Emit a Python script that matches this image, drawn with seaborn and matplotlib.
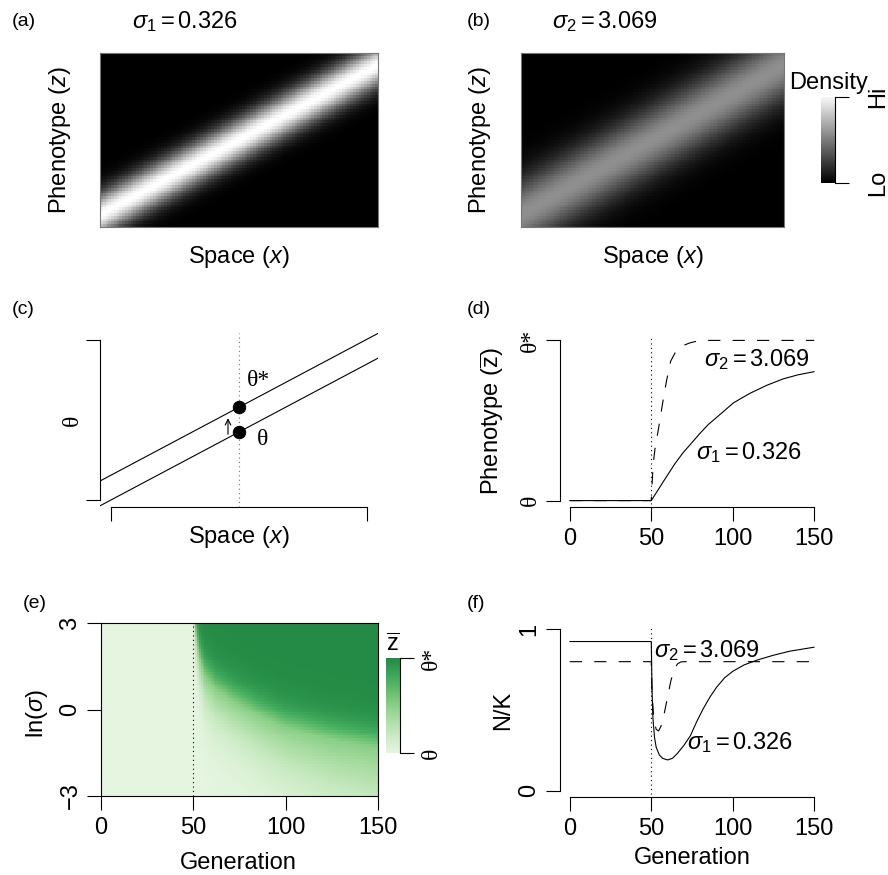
import numpy as np
import seaborn as sns
import matplotlib.pyplot as plt
from matplotlib.colors import LinearSegmentedColormap

# ---- data ----
# (a), (b): density ridge along space
sigma_labels = [r"$\sigma_1 = 0.326$", r"$\sigma_2 = 3.069$"]
band_peak = [1.0, 0.56]        # grey level of the ridge
band_width = [0.085, 0.14]     # ridge sd, fraction of panel height
band_start = 0.07              # ridge height at left edge
band_end = 0.93                # ridge height at right edge

# (c): optimum before / after the change
theta_slope = 0.85
theta_shift = 0.155
x_focus = 0.5

# (d): mean phenotype over generations
gen_d_slow = [0, 50, 55, 59.4, 64.5, 69.6, 74.8, 79.9, 85, 90.2, 95.3, 100.4,
              105.5, 110.6, 115.8, 120.9, 126, 131, 140, 150]
zbar_slow = [0, 0, 0.08, 0.15, 0.23, 0.30, 0.36, 0.42, 0.475, 0.52, 0.565, 0.61,
             0.64, 0.67, 0.695, 0.72, 0.74, 0.76, 0.785, 0.805]
gen_d_fast = [0, 50, 50.5, 51.2, 52.5, 54.3, 57, 59.4, 61.9, 64.5, 67.6, 73.8, 80, 150]
zbar_fast = [0, 0, 0.1, 0.23, 0.34, 0.44, 0.61, 0.75, 0.87, 0.92, 0.96, 0.985, 1.0, 1.0]

# (e): half-way contour of z-bar in (generation, ln sigma), and spread around it
mid_gen = [50, 51, 52, 54, 57, 62, 72, 85, 100, 125, 150]
mid_lnsig = [4.0, 3.0, 2.3, 1.54, 1.1, 0.7, 0.26, -0.2, -0.64, -1.05, -1.34]
spread_below = [0.5, 0.5, 0.55, 0.6, 0.7, 0.75, 0.8, 0.9, 1.0, 1.2, 1.35]
spread_above = 0.4
gen_change = 50

# (f): population size
gen_f_slow = [0, 50, 50.5, 51, 52, 53, 55, 57, 60, 63, 66, 70, 74, 78, 82, 86, 90,
              95, 100, 107, 115, 125, 135, 150]
nk_slow = [0.925, 0.925, 0.62, 0.45, 0.33, 0.27, 0.22, 0.2, 0.19, 0.2, 0.23, 0.28,
           0.34, 0.43, 0.51, 0.58, 0.64, 0.70, 0.74, 0.78, 0.81, 0.84, 0.865, 0.89]
gen_f_fast = [0, 50, 50.5, 51.5, 53, 54.5, 56, 58, 60, 62, 64, 66, 68, 70, 150]
nk_fast = [0.8, 0.8, 0.6, 0.45, 0.38, 0.37, 0.40, 0.48, 0.58, 0.68, 0.75, 0.785,
           0.798, 0.8, 0.8]
gen_ticks = [0, 50, 100, 150]

# ---- style ----
sns.set_style("ticks")
plt.rcParams["font.family"] = ["Liberation Sans", "DejaVu Sans"]
plt.rcParams["mathtext.fontset"] = "custom"
plt.rcParams["mathtext.rm"] = "Liberation Sans"
plt.rcParams["mathtext.it"] = "Liberation Sans:italic"
plt.rcParams["mathtext.bf"] = "Liberation Sans:bold"
for key in ["text.color", "axes.labelcolor", "xtick.color", "ytick.color", "axes.edgecolor"]:
    plt.rcParams[key] = "black"
SERIF = ["Liberation Serif", "DejaVu Serif"]
FS = 17
LW = 0.8

W, H = 888, 875
fig = plt.figure(figsize=(W / 100, H / 100), dpi=100)


def axes_px(x0, y0, x1, y1):
    return fig.add_axes([x0 / W, 1 - y1 / H, (x1 - x0) / W, (y1 - y0) / H])


def text_px(x, y, s, **kw):
    kw.setdefault("fontsize", FS)
    kw.setdefault("ha", "center")
    kw.setdefault("va", "center")
    fig.text(x / W, 1 - y / H, s, **kw)


def r_axes(ax):
    for side in ["top", "right"]:
        ax.spines[side].set_visible(False)
    for side in ["left", "bottom"]:
        ax.spines[side].set_linewidth(LW)
    ax.tick_params(length=10, width=LW, labelsize=FS, direction="out")


def dashed(line):
    line.set_dashes((11, 11))


# ---- (a) and (b) density images ----
nx, ny = 100, 62
xs = (np.arange(nx) + 0.5) / nx
ys = 1 - (np.arange(ny) + 0.5) / ny
ridge = band_start + (band_end - band_start) * xs
for k, rect in enumerate([(100, 53, 378, 227), (521, 53, 784, 227)]):
    ax = axes_px(*rect)
    img = band_peak[k] * np.exp(-0.5 * ((ys[:, None] - ridge[None, :]) / band_width[k]) ** 2)
    sns.heatmap(img, ax=ax, cmap="gray", vmin=0, vmax=1, cbar=False,
                xticklabels=False, yticklabels=False)
    for sp in ax.spines.values():
        sp.set_visible(True)
        sp.set_color("#777777")
        sp.set_linewidth(LW)

text_px(12, 22, "(a)", ha="left", fontsize=14)
text_px(132, 22, sigma_labels[0], ha="left")
text_px(60, 140, r"Phenotype ($z$)", rotation=90)
text_px(239, 257, r"Space ($x$)")

text_px(467, 22, "(b)", ha="left", fontsize=14)
text_px(552, 22, sigma_labels[1], ha="left")
text_px(480, 140, r"Phenotype ($z$)", rotation=90)
text_px(653, 257, r"Space ($x$)")

# density colour key
cb = axes_px(821, 97, 835, 183)
cb.imshow(np.linspace(1, 0, 100)[:, None] * np.array([[0.97]]), cmap="gray",
          vmin=0, vmax=1, aspect="auto", extent=(0, 1, 0, 1))
for side in ["top", "left", "bottom"]:
    cb.spines[side].set_visible(False)
cb.spines["right"].set_linewidth(LW)
cb.set_xticks([])
cb.yaxis.tick_right()
cb.set_yticks([0, 1], ["Lo", "Hi"])
cb.tick_params(axis="y", length=10, width=LW, labelsize=FS, pad=13, labelrotation=90)
for lbl in cb.get_yticklabels():
    lbl.set_va("center")
text_px(789, 83, "Density", ha="left")

# ---- (c) schematic of the optimum ----
ax = axes_px(100, 333, 378, 507)
r_axes(ax)
ax.set_xlim(-0.043, 1.043)
ax.set_ylim(-0.044, 1.044)
ax.axline((0, 0), slope=theta_slope, color="k", lw=LW)
ax.axline((0, theta_shift), slope=theta_slope, color="k", lw=LW)
ax.axvline(x_focus, color="#777777", lw=LW, dashes=(1, 3))
low = theta_slope * x_focus
sns.scatterplot(x=[x_focus, x_focus], y=[low, low + theta_shift], ax=ax,
                color="k", s=80, edgecolor="k", zorder=5)
xa = x_focus - 0.043
ax.annotate("", xy=(xa, theta_slope * xa + theta_shift - 0.015),
            xytext=(xa, theta_slope * xa + 0.005),
            arrowprops=dict(arrowstyle="->,head_length=0.4,head_width=0.2", lw=LW, color="k"))
ax.text(x_focus + 0.03, 0.75, "θ*", fontsize=FS, family=SERIF, ha="left", va="center")
ax.text(x_focus + 0.07, 0.375, "θ", fontsize=FS, family=SERIF, ha="left", va="center")
ax.spines["left"].set_bounds(0, 1)
ax.spines["bottom"].set_bounds(0, 1)
ax.set_xticks([0, 1], ["", ""])
ax.set_yticks([0, 1], ["", ""])
text_px(12, 310, "(c)", ha="left", fontsize=14)
text_px(72, 420, "θ", rotation=90, family=SERIF)
text_px(239, 537, r"Space ($x$)")

# ---- (d) phenotype through time ----
ax = axes_px(560, 334, 824, 507)
r_axes(ax)
sns.lineplot(x=gen_d_slow, y=zbar_slow, ax=ax, color="k", lw=LW)
sns.lineplot(x=gen_d_fast, y=zbar_fast, ax=ax, color="k", lw=LW)
dashed(ax.lines[-1])
ax.axvline(gen_change, ymin=0.02, ymax=0.98, color="k", lw=LW, dashes=(1, 3))
ax.set_xlim(-6, 156)
ax.set_ylim(-0.04, 1.04)
ax.spines["left"].set_bounds(0, 1)
ax.spines["bottom"].set_bounds(0, 150)
ax.set_xticks(gen_ticks, [str(g) for g in gen_ticks])
ax.set_yticks([0, 1], ["θ", "θ*"])
ax.tick_params(axis="x", pad=5)
ax.tick_params(axis="y", labelrotation=90, pad=4)
for lbl in ax.get_yticklabels():
    lbl.set_fontfamily(SERIF)
    lbl.set_va("center")
ax.set_xlabel("")
ax.set_ylabel("")
ax.text(82.4, 0.878, sigma_labels[1], fontsize=FS, ha="left", va="center")
ax.text(77.5, 0.297, sigma_labels[0], fontsize=FS, ha="left", va="center")
text_px(467, 309, "(d)", ha="left", fontsize=14)
text_px(492, 421, r"Phenotype ($\overline{\mathrm{z}}$)", rotation=90)

# ---- (e) mean phenotype over generation and ln(sigma) ----
ncol, nrow = 150, 60
gens = np.arange(ncol) + 0.5
lnsig = 3 - (np.arange(nrow) + 0.5) * 0.1
centre = np.interp(gens, mid_gen, mid_lnsig)[None, :]
below = np.interp(gens, mid_gen, spread_below)[None, :]
dist = lnsig[:, None] - centre
scale = np.where(dist > 0, spread_above, below)
field = 1 / (1 + np.exp(-dist / scale))
field = np.where(gens[None, :] > gen_change, field, 0.0)
greens = LinearSegmentedColormap.from_list(
    "zbar", ["#e5f5e0", "#c7e9c0", "#a1d99b", "#74c476", "#41ab5d", "#238b45"])
ax = axes_px(101, 623, 378, 796)
sns.heatmap(field, ax=ax, cmap=greens, vmin=0, vmax=1, cbar=False)
for sp in ax.spines.values():
    sp.set_visible(True)
    sp.set_color("k")
    sp.set_linewidth(LW)
ax.axvline(gen_change, color="k", lw=LW, dashes=(1, 3))
ax.set_xticks(gen_ticks, [str(g) for g in gen_ticks], rotation=0)
ax.set_yticks([0, 30, 60], ["3", "0", "\u22123"])
ax.tick_params(length=10, width=LW, labelsize=FS, direction="out")
ax.tick_params(axis="x", pad=5)
ax.tick_params(axis="y", labelrotation=90, pad=4)
for lbl in ax.get_yticklabels():
    lbl.set_va("center")
text_px(23, 603, "(e)", ha="left", fontsize=14)
text_px(37, 713, r"ln($\sigma$)", rotation=90)
text_px(238, 863, "Generation")

cbe = axes_px(386, 658, 400, 753)
cbe.imshow(np.linspace(1, 0, 100)[:, None], cmap=greens, vmin=0, vmax=1,
           aspect="auto", extent=(0, 1, 0, 1))
for side in ["top", "left", "bottom"]:
    cbe.spines[side].set_visible(False)
cbe.spines["right"].set_linewidth(LW)
cbe.set_xticks([])
cbe.yaxis.tick_right()
cbe.set_yticks([0, 1], ["θ", "θ*"])
cbe.tick_params(axis="y", length=10, width=LW, labelsize=FS, pad=5, labelrotation=90)
for lbl in cbe.get_yticklabels():
    lbl.set_fontfamily(SERIF)
    lbl.set_va("center")
text_px(393, 645, r"$\overline{\mathrm{z}}$")

# ---- (f) population size ----
ax = axes_px(560, 623, 824, 797)
r_axes(ax)
sns.lineplot(x=gen_f_slow, y=nk_slow, ax=ax, color="k", lw=LW)
sns.lineplot(x=gen_f_fast, y=nk_fast, ax=ax, color="k", lw=LW)
dashed(ax.lines[-1])
ax.axvline(gen_change, ymin=0.02, ymax=0.98, color="k", lw=LW, dashes=(1, 3))
ax.set_xlim(-6, 156)
ax.set_ylim(-0.04, 1.04)
ax.spines["left"].set_bounds(0, 1)
ax.spines["bottom"].set_bounds(0, 150)
ax.set_xticks(gen_ticks, [str(g) for g in gen_ticks])
ax.set_yticks([0, 1], ["0", "1"])
ax.tick_params(axis="x", pad=5)
ax.tick_params(axis="y", labelrotation=90, pad=4)
for lbl in ax.get_yticklabels():
    lbl.set_va("center")
ax.set_xlabel("")
ax.set_ylabel("")
ax.text(51.7, 0.872, sigma_labels[1], fontsize=FS, ha="left", va="center")
ax.text(71.9, 0.30, sigma_labels[0], fontsize=FS, ha="left", va="center")
text_px(467, 604, "(f)", ha="left", fontsize=14)
text_px(503, 710, "N/K", rotation=90)
text_px(692, 858, "Generation")

fig.savefig("out.png", dpi=100)
